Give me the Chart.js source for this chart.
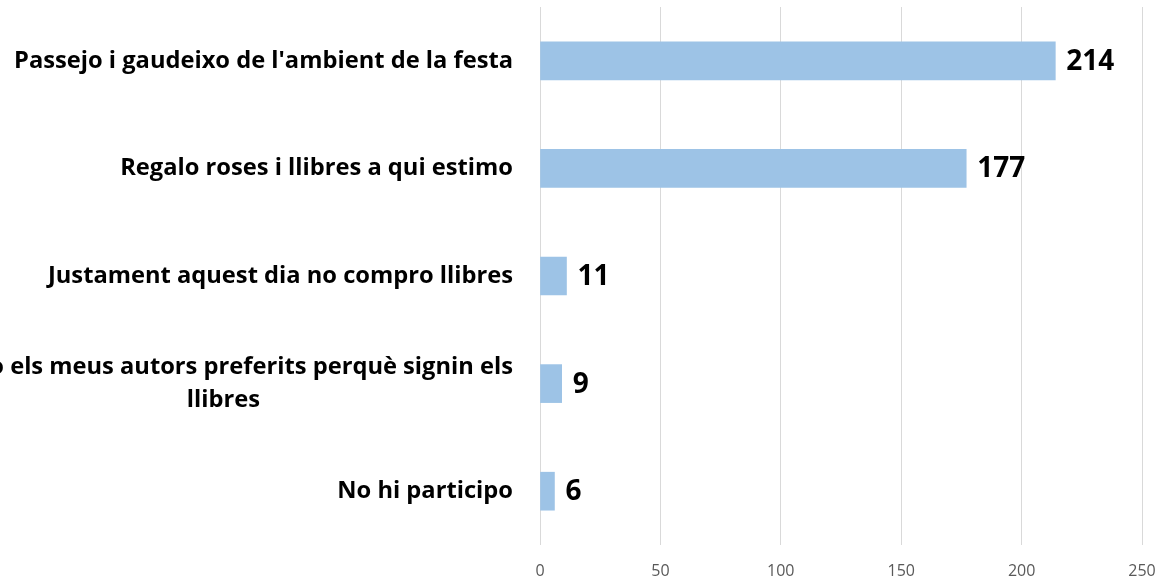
<!DOCTYPE html>
<html>
<head>
<meta charset="utf-8">
<script src="https://cdn.jsdelivr.net/npm/chart.js@4"></script>
<style>
    body { margin: 0; background: #fff; }
    #wrap { width: 1159px; height: 582px; position: relative; }
</style>
</head>
<body>
<div id="wrap"><canvas id="surveyChart"></canvas></div>
<script>
// Chart data
const categories = [
    "Passejo i gaudeixo de l'ambient de la festa",
    'Regalo roses i llibres a qui estimo',
    'Justament aquest dia no compro llibres',
    ['Busco els meus autors preferits perquè signin els', 'llibres'],
    'No hi participo'
];
const responses = [214, 177, 11, 9, 6];
const xTicks = [0, 50, 100, 150, 200, 250];

const labelFont = 'bold 23.7px "Open Sans"';
const valueFont = 'bold 28px "Open Sans"';

// category labels: right aligned, extra lines centred under the first one
const categoryLabels = {
    id: 'categoryLabels',
    afterDraw(chart) {
        const ctx = chart.ctx;
        const yScale = chart.scales.y;
        const right = chart.chartArea.left - 27;
        ctx.save();
        ctx.font = labelFont;
        ctx.fillStyle = '#000';
        ctx.textBaseline = 'middle';
        categories.forEach((label, i) => {
            const lines = Array.isArray(label) ? label : [label];
            const blockW = Math.max(...lines.map(l => ctx.measureText(l).width));
            const lineH = 33;
            const y0 = yScale.getPixelForValue(i) - (lines.length - 1) * lineH / 2;
            lines.forEach((line, j) => {
                if (lines.length === 1) {
                    ctx.textAlign = 'right';
                    ctx.fillText(line, right, y0);
                } else {
                    ctx.textAlign = 'center';
                    ctx.fillText(line, right - blockW / 2, y0 + j * lineH);
                }
            });
        });
        ctx.restore();
    }
};

// value labels at the end of each bar
const valueLabels = {
    id: 'valueLabels',
    afterDatasetsDraw(chart) {
        const ctx = chart.ctx;
        const meta = chart.getDatasetMeta(0);
        ctx.save();
        ctx.font = valueFont;
        ctx.fillStyle = '#000';
        ctx.textAlign = 'left';
        ctx.textBaseline = 'middle';
        meta.data.forEach((bar, i) => {
            ctx.fillText(String(responses[i]), bar.x + 11, bar.y + 1);
        });
        ctx.restore();
    }
};

new Chart(document.getElementById('surveyChart'), {
    type: 'bar',
    data: {
        labels: categories,
        datasets: [{
            data: responses,
            backgroundColor: '#9dc3e6',
            barThickness: 38
        }]
    },
    options: {
        indexAxis: 'y',
        responsive: true,
        maintainAspectRatio: false,
        animation: false,
        layout: { padding: { top: 7, right: 17, left: 0, bottom: 0 } },
        plugins: {
            legend: { display: false },
            tooltip: { enabled: false }
        },
        scales: {
            x: {
                min: 0,
                max: 250,
                afterBuildTicks(scale) {
                    scale.ticks = xTicks.map(v => ({ value: v }));
                },
                afterFit(scale) {
                    scale.height = 37;
                    scale.paddingLeft = 0;
                    scale.paddingRight = 0;
                },
                border: { display: false },
                grid: { color: '#d9d9d9', drawTicks: false },
                ticks: {
                    color: '#595959',
                    padding: 17,
                    font: { family: '"Open Sans"', size: 16 }
                }
            },
            y: {
                afterFit(scale) { scale.width = 540; },
                border: { display: false },
                grid: { display: false },
                ticks: { display: false }
            }
        }
    },
    plugins: [categoryLabels, valueLabels]
});
</script>
</body>
</html>
